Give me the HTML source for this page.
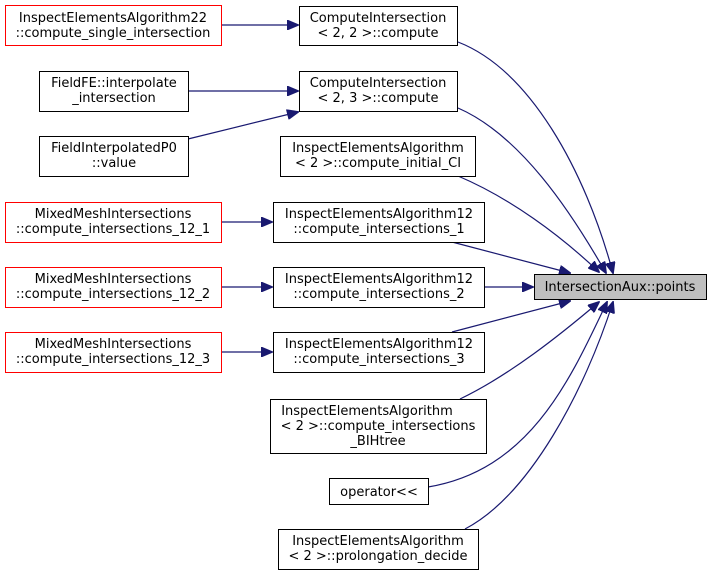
<!DOCTYPE html>
<html><head><meta charset="utf-8"><style>
body{margin:0;background:#fff;width:712px;height:576px;overflow:hidden}
svg text{font-family:"DejaVu Sans","Liberation Sans",sans-serif;font-size:13px;fill:#000}
</style></head><body>
<svg width="712" height="576" viewBox="0 0 712 576" xmlns="http://www.w3.org/2000/svg">
<defs><marker id="a" markerWidth="12" markerHeight="10" refX="11" refY="5" orient="auto" markerUnits="userSpaceOnUse"><path d="M0,0 L12,5 L0,10 Z" fill="#191970" stroke="#191970"/></marker></defs>
<g fill="none" stroke="#191970" stroke-width="1.2">
<path d="M222,25 L298,25" marker-end="url(#a)"/>
<path d="M188,91 L298,91" marker-end="url(#a)"/>
<path d="M188,139 L298,112" marker-end="url(#a)"/>
<path d="M222,222 L272,222" marker-end="url(#a)"/>
<path d="M222,287 L272,287" marker-end="url(#a)"/>
<path d="M222,352 L272,352" marker-end="url(#a)"/>
<path d="M458,42 C530,70 585,170 613,273" marker-end="url(#a)"/>
<path d="M458,108 C520,135 570,210 606,273" marker-end="url(#a)"/>
<path d="M458,176 C510,198 560,235 599,272" marker-end="url(#a)"/>
<path d="M452,242 L570,273" marker-end="url(#a)"/>
<path d="M484,287 L533,287" marker-end="url(#a)"/>
<path d="M452,332 L570,301" marker-end="url(#a)"/>
<path d="M460,399 C510,375 560,335 599,302" marker-end="url(#a)"/>
<path d="M428,487 C530,470 570,380 607,302" marker-end="url(#a)"/>
<path d="M465,529 C530,495 585,390 613,302" marker-end="url(#a)"/>
</g>
<g stroke-width="1" fill="#fff">
<rect x="5.5" y="5.5" width="216" height="40" stroke="#f00"/>
<rect x="299.5" y="6.5" width="158" height="39" stroke="#000"/>
<rect x="39.5" y="71.5" width="149" height="40" stroke="#000"/>
<rect x="299.5" y="71.5" width="158" height="40" stroke="#000"/>
<rect x="39.5" y="136.5" width="149" height="40" stroke="#000"/>
<rect x="280.5" y="136.5" width="195" height="40" stroke="#000"/>
<rect x="5.5" y="202.5" width="216" height="40" stroke="#f00"/>
<rect x="273.5" y="202.5" width="211" height="40" stroke="#000"/>
<rect x="5.5" y="267.5" width="216" height="40" stroke="#f00"/>
<rect x="273.5" y="267.5" width="211" height="40" stroke="#000"/>
<rect x="5.5" y="332.5" width="216" height="40" stroke="#f00"/>
<rect x="273.5" y="332.5" width="211" height="40" stroke="#000"/>
<rect x="270.5" y="399.5" width="216" height="54" stroke="#000"/>
<rect x="329.5" y="478.5" width="99" height="26" stroke="#000"/>
<rect x="278.5" y="529.5" width="200" height="40" stroke="#000"/>
<rect x="534.5" y="274.5" width="172" height="25" stroke="#000" fill="#bfbfbf"/>
</g>
<g text-anchor="middle">
<text x="113" y="22">InspectElementsAlgorithm22</text><text x="113" y="37">::compute_single_intersection</text>
<text x="378" y="22">ComputeIntersection</text><text x="378" y="37">&lt; 2, 2 &gt;::compute</text>
<text x="114" y="87">FieldFE::interpolate</text><text x="114" y="102">_intersection</text>
<text x="378" y="87">ComputeIntersection</text><text x="378" y="102">&lt; 2, 3 &gt;::compute</text>
<text x="114" y="152">FieldInterpolatedP0</text><text x="114" y="167">::value</text>
<text x="378" y="152">InspectElementsAlgorithm</text><text x="378" y="167">&lt; 2 &gt;::compute_initial_CI</text>
<text x="113" y="218">MixedMeshIntersections</text><text x="113" y="233">::compute_intersections_12_1</text>
<text x="379" y="218">InspectElementsAlgorithm12</text><text x="379" y="233">::compute_intersections_1</text>
<text x="113" y="283">MixedMeshIntersections</text><text x="113" y="298">::compute_intersections_12_2</text>
<text x="379" y="283">InspectElementsAlgorithm12</text><text x="379" y="298">::compute_intersections_2</text>
<text x="113" y="348">MixedMeshIntersections</text><text x="113" y="363">::compute_intersections_12_3</text>
<text x="379" y="348">InspectElementsAlgorithm12</text><text x="379" y="363">::compute_intersections_3</text>
<text x="367" y="415">InspectElementsAlgorithm</text><text x="378" y="430">&lt; 2 &gt;::compute_intersections</text><text x="378" y="445">_BIHtree</text>
<text x="379" y="496">operator&lt;&lt;</text>
<text x="378" y="545">InspectElementsAlgorithm</text><text x="378" y="560">&lt; 2 &gt;::prolongation_decide</text>
<text x="620" y="291">IntersectionAux::points</text>
</g>
</svg>
</body></html>
